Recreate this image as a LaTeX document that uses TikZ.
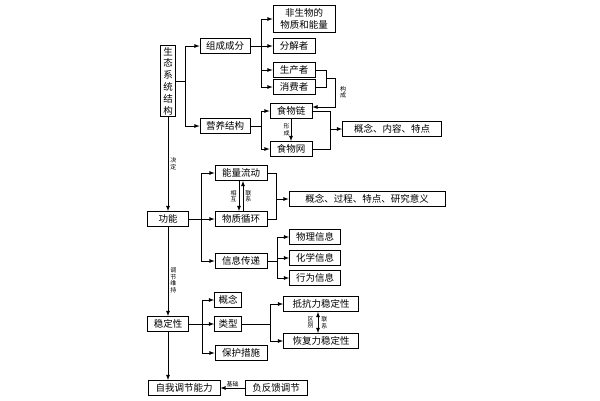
\documentclass[tikz,border=0pt]{standalone}
\usepackage{fontspec}
\setmainfont{Noto Sans CJK SC}
\begin{document}
\begin{tikzpicture}[x=1pt,y=-1pt,>=latex]

        \tikzstyle{box}  = [draw, thick, inner sep=1pt, minimum height=15pt, font=\fontsize{9.5}{11}\selectfont]
        \tikzstyle{tag}  = [inner sep=0pt, align=center, font=\fontsize{6}{6.5}\selectfont]
        \useasboundingbox (0,0) rectangle (600,400);

        % structure
        \node [box, align=center, minimum width=15pt, inner sep=1.5pt, font=\fontsize{9.5}{11.8}\selectfont](jg) at (168, 81) {生\\态\\系\\统\\结\\构};
        \node [box, minimum width=50pt](zc) at (225, 46) {组成成分};
        \node [box, minimum width=50pt](yy) at (225, 126) {营养结构};
        \node [box, align=center, minimum width=62pt, minimum height=27pt, font=\fontsize{9.5}{12}\selectfont](fsw) at (304, 19) {非生物的\\物质和能量};
        \node [box, minimum width=42pt](fj) at (294, 46) {分解者};
        \node [box, minimum width=42pt](sc) at (294, 70) {生产者};
        \node [box, minimum width=42pt](xf) at (294, 87) {消费者};
        \node [box, minimum width=42pt](sl) at (291, 111) {食物链};
        \node [box, minimum width=42pt](sw) at (291, 149) {食物网};
        \node [box, minimum width=99pt](gn1) at (392, 129) {概念、内容、特点};

        % function
        \node [box, minimum width=41pt](gn) at (168, 219) {功能};
        \node [box, minimum width=52pt](nl) at (241, 173) {能量流动};
        \node [box, minimum width=52pt](wz) at (241, 219) {物质循环};
        \node [box, minimum width=52pt](xx) at (241, 261) {信息传递};
        \node [box, minimum width=156pt](gn2) at (367, 199) {概念、过程、特点、研究意义};
        \node [box, minimum width=51pt](wl) at (315, 237) {物理信息};
        \node [box, minimum width=51pt](hx) at (315, 258) {化学信息};
        \node [box, minimum width=51pt](xw) at (315, 278) {行为信息};

        % stability
        \node [box, minimum width=41pt](wd) at (168, 324) {稳定性};
        \node [box, minimum width=27pt](gn3) at (228, 300) {概念};
        \node [box, minimum width=27pt](lx) at (228, 324) {类型};
        \node [box, minimum width=52pt](bh) at (241, 353) {保护措施};
        \node [box, minimum width=75pt](dk) at (321, 304) {抵抗力稳定性};
        \node [box, minimum width=75pt](hf) at (321, 341) {恢复力稳定性};
        \node [box, minimum width=72pt](zw) at (184, 388) {自我调节能力};
        \node [box, minimum width=62pt](ffk) at (276, 388) {负反馈调节};

        % trunk
        \draw [thick, ->] (jg) -- node [tag, right=2pt] {决\\定} (jg |- gn.north);
        \draw [thick, ->] (gn) -- node [tag, right=2pt, pos=0.6] {调\\节\\维\\持} (wd);
        \draw [thick, ->] (wd) -- (wd |- zw.north);
        \draw [thick, ->] (ffk) -- node [tag, above=1pt] {基础} (zw);

        % buses
        \foreach \s/\b/\t in {jg/185/{zc,yy}, zc/261/{fsw,fj,sc,xf}, yy/261/{sl,sw}, gn/201/{nl,wz,xx}, xx/277/{wl,hx,xw}, wd/202/{gn3,lx,bh}, lx/270/{dk,hf}}
        {
                \draw [thick] (\s.east) -- (\b, 0 |- \s.east);
                \foreach \t in \t
                        \draw [thick, ->] (\b, 0 |- \t.west) -- (\t.west);
        }
        \draw [thick] (185, 0 |- zc) -- (185, 0 |- yy);
        \draw [thick] (261, 0 |- fsw) -- (261, 0 |- xf);
        \draw [thick] (261, 0 |- sl) -- (261, 0 |- sw);
        \draw [thick] (201, 0 |- nl) -- (201, 0 |- xx);
        \draw [thick] (277, 0 |- wl) -- (277, 0 |- xw);
        \draw [thick] (202, 0 |- gn3) -- (202, 0 |- bh);
        \draw [thick] (270, 0 |- dk) -- (270, 0 |- hf);

        % brackets
        \draw [thick] (sc.east) -- (326, 0 |- sc.east) -- (326, 0 |- xf.east) -- (xf.east);
        \draw [thick, ->] (326, 78) -- (335, 78) -- (335, 107) -- (sl.east |- 0, 107);
        \node [tag] (gc) at (343, 92) {构\\成};
        \draw [thick] (sl.east) -- (330, 0 |- sl.east) -- (330, 0 |- sw.east) -- (sw.east);
        \draw [thick, ->] (330, 0 |- gn1) -- (gn1.west);
        \draw [thick] (nl.east) -- (276, 0 |- nl.east) -- (276, 0 |- wz.east) -- (wz.east);
        \draw [thick, ->] (276, 0 |- gn2) -- (gn2.west);

        % mutual arrows
        \draw [thick, ->] (sl) -- node [tag, left=1pt] {形\\成} (sw);
        \draw [thick, ->] ([xshift=-2pt]nl.south) -- node [tag, left=2pt] {相\\互} ([xshift=-2pt]wz.north);
        \draw [thick, ->] ([xshift=2pt]wz.north) -- node [tag, right=2pt] {联\\系} ([xshift=2pt]nl.south);
        \draw [thick, <->] ([xshift=-3pt]dk.south) -- node [tag, left=4pt] {区\\别} node [tag, right=3pt] {联\\系} ([xshift=-3pt]hf.north);

\end{tikzpicture}
\end{document}
